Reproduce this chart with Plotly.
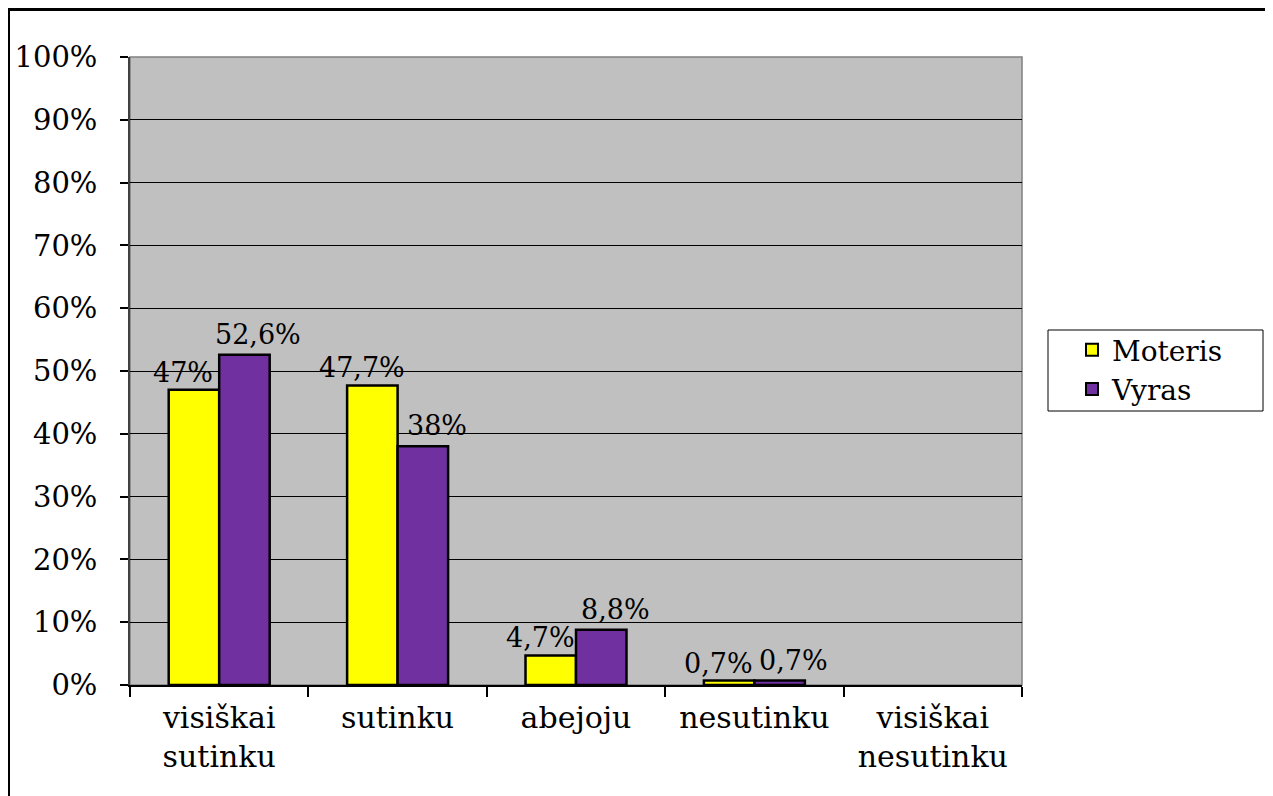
import plotly.graph_objects as go

categories = ["visiškai<br>sutinku", "sutinku", "abejoju", "nesutinku", "visiškai<br>nesutinku"]
moteris = [47.0, 47.7, 4.7, 0.7, 0.0]
vyras = [52.6, 38.0, 8.8, 0.7, 0.0]
moteris_labels = ["47%", "47,7%", "4,7%", "0,7%", ""]
vyras_labels = ["52,6%", "38%", "8,8%", "0,7%", ""]
y_ticks = list(range(0, 101, 10))
y_tick_labels = [f"{v}%" for v in y_ticks]

FONT = "DejaVu Serif"
OFF = 8  # browser body margin
W, H = 1273 - OFF, 796 - OFF
L, R, T, B = 130 - OFF, 1022 - OFF, 57 - OFF, 685 - OFF

outline_w = [0 if v == 0 else 2.5 for v in moteris]
outline_w2 = [0 if v == 0 else 2.5 for v in vyras]

fig = go.Figure()
fig.add_trace(go.Bar(name="Moteris", x=categories, y=moteris,
                     marker=dict(color="#FFFF00", line=dict(color="black", width=outline_w))))
fig.add_trace(go.Bar(name="Vyras", x=categories, y=vyras,
                     marker=dict(color="#7030A0", line=dict(color="black", width=outline_w2))))

for c, v, t in zip(categories, moteris, moteris_labels):
    if t:
        fig.add_annotation(x=c, y=v, xref="x", yref="y", text=t, showarrow=False,
                           xanchor="center", yanchor="bottom", xshift=-36, yshift=0,
                           font=dict(family=FONT, size=27, color="black"))
for c, v, t in zip(categories, vyras, vyras_labels):
    if t:
        fig.add_annotation(x=c, y=v, xref="x", yref="y", text=t, showarrow=False,
                           xanchor="center", yanchor="bottom", xshift=39, yshift=3,
                           font=dict(family=FONT, size=27, color="black"))

pw, ph = R - L, B - T
def px(x):
    return (x - OFF - L) / pw
def py(y):
    return (B - (y - OFF)) / ph

shapes = [
    dict(type="rect", xref="paper", yref="paper", x0=0, x1=1, y0=0, y1=1,
         line=dict(color="#808080", width=1.5), layer="below"),
    dict(type="rect", xref="paper", yref="paper", x0=px(1048), x1=px(1263),
         y0=py(411), y1=py(330), line=dict(color="black", width=1), fillcolor="white",
         layer="below"),
    dict(type="line", xref="paper", yref="paper", x0=px(8.5), x1=px(8.5), y0=py(800), y1=py(8),
         line=dict(color="black", width=3)),
    dict(type="line", xref="paper", yref="paper", x0=px(7), x1=px(1280), y0=py(9.5), y1=py(9.5),
         line=dict(color="black", width=3)),
]

fig.update_layout(
    width=W, height=H,
    margin=dict(l=L, r=W - R, t=T, b=H - B, autoexpand=False),
    paper_bgcolor="white", plot_bgcolor="#C0C0C0",
    barmode="group", bargap=0.434, bargroupgap=0,
    font=dict(family=FONT, size=29, color="black"),
    showlegend=True,
    legend=dict(x=px(1072), y=py(325), xanchor="left", yanchor="top",
                bgcolor="rgba(0,0,0,0)", borderwidth=0,
                font=dict(family=FONT, size=28, color="black"),
                tracegroupgap=0, itemsizing="constant"),
    shapes=shapes,
    xaxis=dict(showline=True, linecolor="black", linewidth=1.5,
               ticks="outside", ticklen=10, tickcolor="black", tickwidth=1.5,
               tickson="boundaries", showgrid=False, ticklabelstandoff=5,
               tickfont=dict(family=FONT, size=30, color="black")),
    yaxis=dict(range=[0, 100], tickvals=y_ticks, ticktext=y_tick_labels,
               showline=True, linecolor="#404040", linewidth=1.5,
               ticks="outside", ticklen=8, tickcolor="black", tickwidth=1.5,
               showgrid=True, gridcolor="black", gridwidth=1, zeroline=False,
               ticklabelstandoff=17,
               tickfont=dict(family=FONT, size=29, color="black")),
)

fig.write_html("out.html")
